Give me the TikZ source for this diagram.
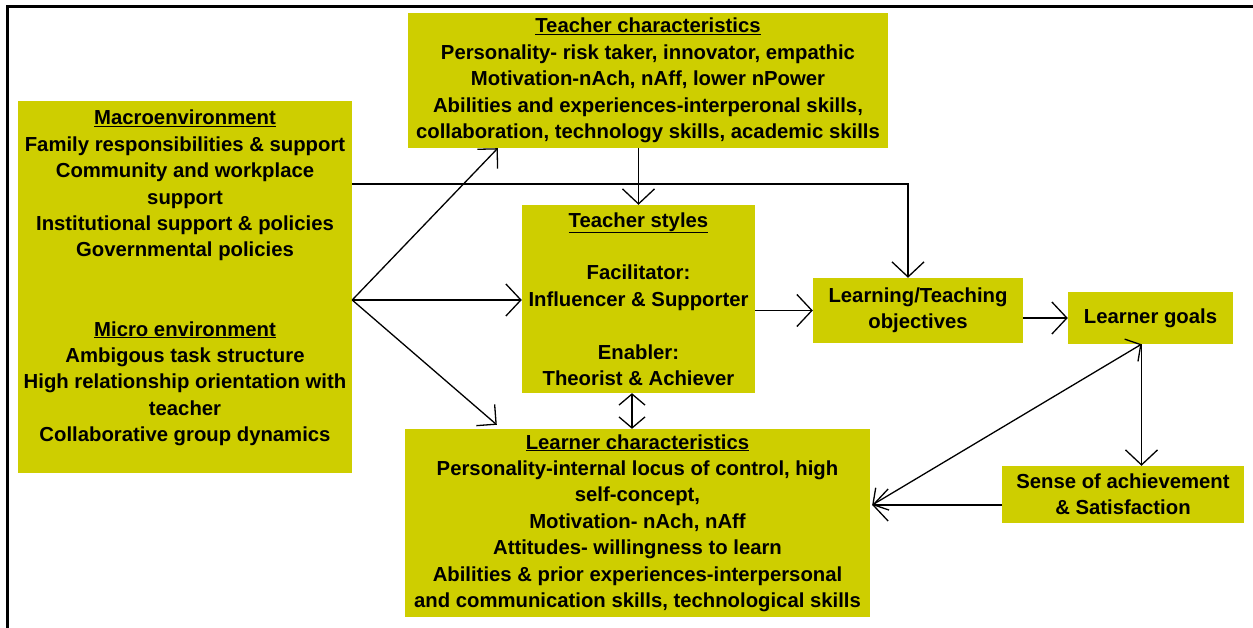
\documentclass[tikz,border=0pt]{standalone}
\usepackage{fontspec}
\setmainfont{Liberation Sans}
\usetikzlibrary{arrows.meta,calc}
\definecolor{boxyellow}{RGB}{206,206,0}
\begin{document}
\begin{tikzpicture}[x=1pt,y=-1pt,
  box/.style={draw=none,fill=boxyellow,inner sep=0pt,align=center,
    font=\bfseries\fontsize{20.3}{26.4}\selectfont},
  txt/.style={inner sep=0pt,align=center,font=\bfseries\fontsize{20.3}{26.4}\selectfont},
  arr/.style={line width=1.3pt,-{Straight Barb[length=15pt,width=32pt]}},
  dbl/.style={line width=1.3pt,{Straight Barb[length=11pt,width=26pt]}-{Straight Barb[length=11pt,width=26pt]}}]
\useasboundingbox (0,0) rectangle (1253,628);
\fill[white] (0,0) rectangle (1253,628);
% frame
\draw[line width=3pt] (7,628) -- (7,7) -- (1253,7);
% boxes
\node[box,minimum width=480,minimum height=135] (tc) at (648,80.5)
  {\underline{Teacher characteristics}\\
   Personality- risk taker, innovator, empathic\\
   Motivation-nAch, nAff, lower nPower\\
   Abilities and experiences-interperonal skills,\\
   collaboration, technology skills, academic skills};
\node[box,minimum width=334,minimum height=372] (env) at (185,287) {};
\node[txt] (envtxt) at (185,278)
  {\underline{Macroenvironment}\\
   Family responsibilities \& support\\
   Community and workplace\\
   support\\
   Institutional support \& policies\\
   Governmental policies\\[52.8pt]
   \underline{Micro environment}\\
   Ambigous task structure\\
   High relationship orientation with\\
   teacher\\
   Collaborative group dynamics};
\node[box,minimum width=233,minimum height=188] (ts) at (638.5,299)
  {\underline{Teacher styles}\\[26.4pt]
   Facilitator:\\
   Influencer \& Supporter\\[26.4pt]
   Enabler:\\
   Theorist \& Achiever};
\node[box,minimum width=210,minimum height=65] (lto) at (918,310.5)
  {Learning/Teaching\\objectives};
\node[box,minimum width=165,minimum height=52] (lg) at (1150.5,318)
  {Learner goals};
\node[box,minimum width=242,minimum height=57] (sa) at (1123,494.5)
  {Sense of achievement\\\& Satisfaction};
\node[box,minimum width=465,minimum height=188] (lc) at (637.5,523)
  {\underline{Learner characteristics}\\
   Personality-internal locus of control, high\\
   self-concept,\\
   Motivation- nAch, nAff\\
   Attitudes- willingness to learn\\
   Abilities \& prior experiences-interpersonal\\
   and communication skills, technological skills};
% helper coordinates
\coordinate (fan) at ($(env.east)+(0,13)$);
\coordinate (lgb) at ($(lg.south)+(-9,0)$);
\coordinate (lce) at ($(lc.east)+(2,-18)$);
\coordinate (tsb) at ($(ts.south)+(-6.5,0)$);
% connectors
\draw[arr,-{Straight Barb[length=14pt,width=28pt]}] (fan) -- ($(tc.south west)+(90,0)$);
\draw[arr] (fan) -- (fan -| ts.west);
\draw[arr,-{Straight Barb[length=14pt,width=28pt]}] (fan) -- ($(lc.north west)+(92,-4)$);
\draw[arr] ($(env.east)+(0,-103)$) -| ($(lto.north)+(-10,0)$);
\draw[arr] (tc.south -| ts.north) -- (ts.north);
\draw[arr] (ts.east |- lto.west) -- (lto.west);
\draw[arr] (lto.east |- lg.west) -- (lg.west);
\draw[arr] (lgb) -- (lgb |- sa.north);
\draw[arr] (sa.west |- lce) -- (lce);
\draw[dbl] (lce) -- (lgb);
\draw[dbl] (tsb) -- (tsb |- lc.north);
\end{tikzpicture}
\end{document}
